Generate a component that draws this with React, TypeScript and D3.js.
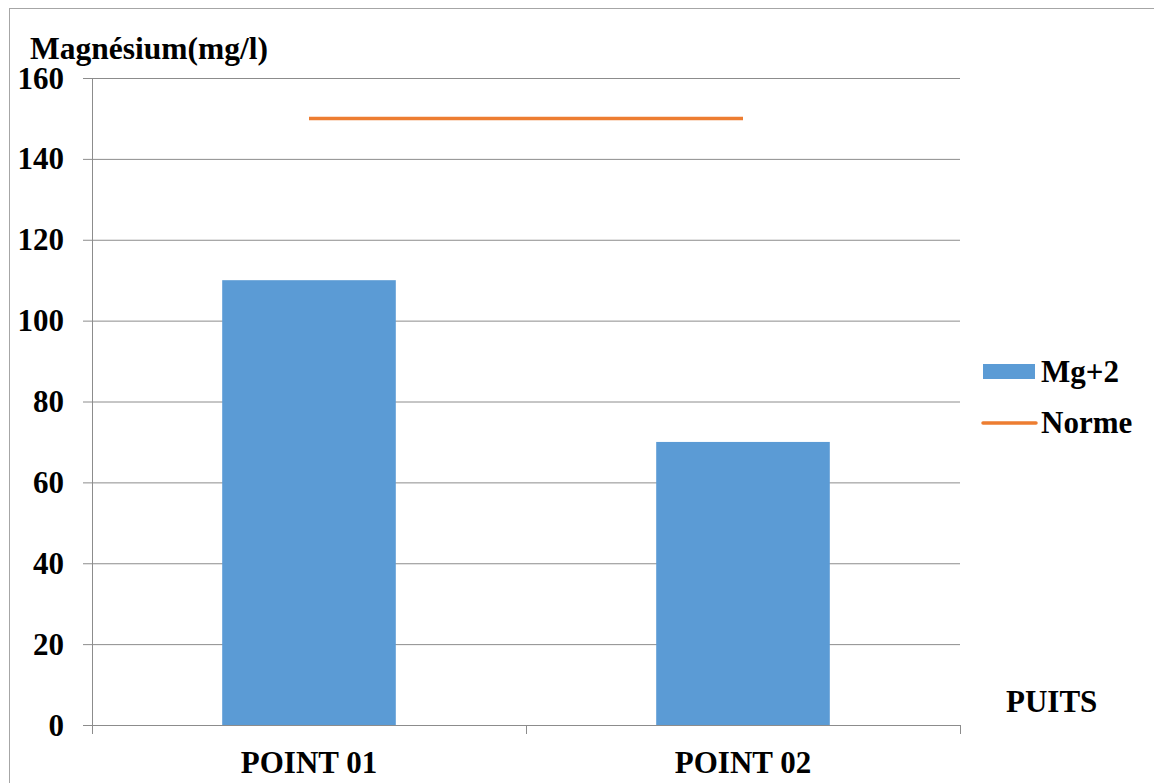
import React from "react";
import * as d3 from "d3";

const categories = ["POINT 01", "POINT 02"];
const mgValues = [110, 70];
const normeValues = [150, 150];
const yTicks = [0, 20, 40, 60, 80, 100, 120, 140, 160];
const seriesNames = ["Mg+2", "Norme"];
const yTitle = "Magnésium(mg/l)";
const xTitle = "PUITS";

const W = 1154;
const H = 783;
const FONT = "Liberation Serif";

export default function App() {
  const left = 92, right = 960, top = 78, bottom = 725;
  const x = d3.scaleBand<string>().domain(categories).range([left, right]).paddingInner(0).paddingOuter(0);
  const y = d3.scaleLinear().domain([0, 160]).range([bottom, top]);
  const bw = x.bandwidth() * 0.4;
  const grid = "#8c8c8c";
  const line = d3
    .line<number>()
    .x((_, i) => (x(categories[i]) as number) + x.bandwidth() / 2)
    .y((d) => y(d));
  const boundaries = [left, ...categories.map((c) => (x(c) as number) + x.bandwidth())];
  const txt = { fontFamily: FONT, fontWeight: 700 as const };
  return (
    <svg width={W} height={H} style={{ position: "absolute", left: 0, top: 0, background: "#fff" }}>
      <rect x={9.5} y={8.5} width={W + 10} height={H + 10} fill="none" stroke="#a6a6a6" strokeWidth={1} />
      {yTicks.map((t) => (
        <g key={t}>
          <line x1={83} x2={right} y1={y(t) + 0.5} y2={y(t) + 0.5} stroke={grid} strokeWidth={1} />
          <text x={64} y={y(t) + 10.5} textAnchor="end" style={{ ...txt, fontSize: 31 }}>
            {t}
          </text>
        </g>
      ))}
      <line x1={left + 0.5} x2={left + 0.5} y1={top} y2={bottom + 9} stroke={grid} strokeWidth={1} />
      {boundaries.map((b, i) => (
        <line key={i} x1={b + 0.5} x2={b + 0.5} y1={bottom} y2={bottom + 9} stroke={grid} strokeWidth={1} />
      ))}
      {categories.map((c, i) => (
        <rect
          key={c}
          x={(x(c) as number) + (x.bandwidth() - bw) / 2}
          y={y(mgValues[i])}
          width={bw}
          height={y(0) - y(mgValues[i])}
          fill="#5B9BD5"
        />
      ))}
      <path d={line(normeValues) || ""} fill="none" stroke="#ED7D31" strokeWidth={3.5} />
      {categories.map((c) => (
        <text
          key={c}
          x={(x(c) as number) + x.bandwidth() / 2}
          y={773}
          textAnchor="middle"
          style={{ ...txt, fontSize: 31 }}
        >
          {c}
        </text>
      ))}
      <text x={30} y={59} style={{ ...txt, fontSize: 31.5 }}>
        {yTitle}
      </text>
      <text x={1006} y={712} style={{ ...txt, fontSize: 31 }}>
        {xTitle}
      </text>
      <rect x={983} y={364} width={52} height={15} fill="#5B9BD5" />
      <text x={1041} y={382} style={{ ...txt, fontSize: 31 }}>
        {seriesNames[0]}
      </text>
      <line x1={983} x2={1036} y1={423} y2={423} stroke="#ED7D31" strokeWidth={3.5} strokeLinecap="round" />
      <text x={1041} y={433} style={{ ...txt, fontSize: 31 }}>
        {seriesNames[1]}
      </text>
    </svg>
  );
}
